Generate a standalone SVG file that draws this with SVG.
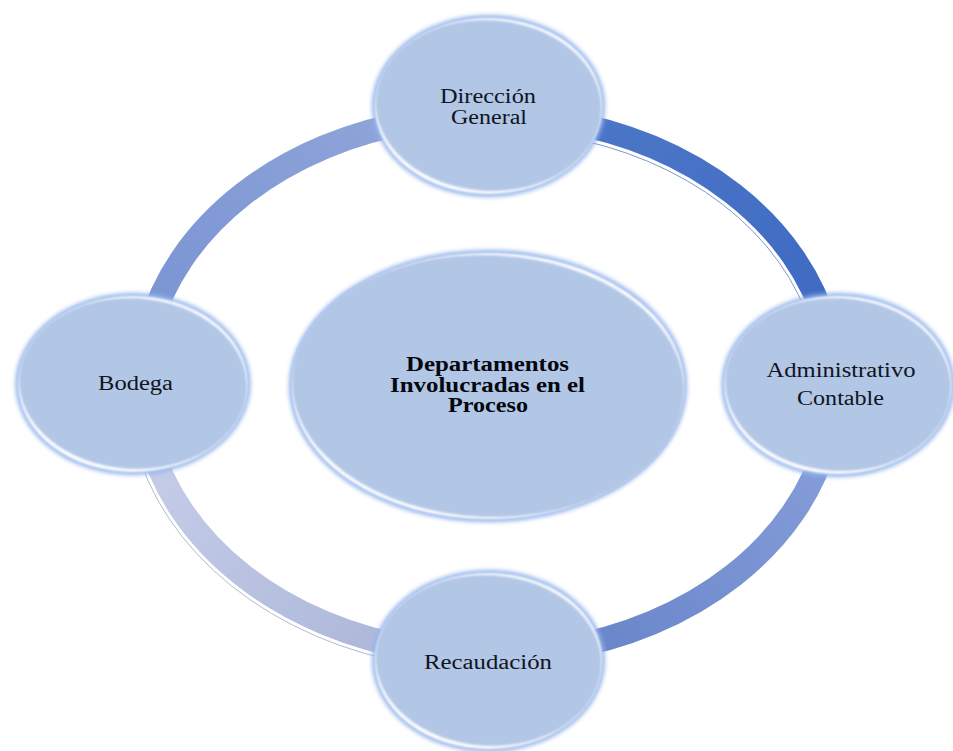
<svg xmlns="http://www.w3.org/2000/svg" width="953" height="751" viewBox="0 0 953 751">
<style>
.rim{fill:#93b4ec;filter:url(#glow)}
.bevel{fill:#ffffff;filter:url(#soft)}
.face{fill:#b2c6e6;filter:url(#soft)}
text{font-family:"Liberation Serif","Times New Roman",serif;font-size:20px;fill:#10141e;text-anchor:middle}
.bold{font-weight:bold;fill:#05070d}
.seg{fill:none;stroke-width:24;filter:url(#edge)}
.line{fill:none;stroke:#b4bbce;stroke-width:1}
.line-blue{fill:none;stroke:#7f97cf;stroke-width:1}
.shine{fill:none;stroke:#ffffff;stroke-width:3}
</style>
<defs>
<filter id="glow" x="-10%" y="-10%" width="120%" height="120%"><feGaussianBlur stdDeviation="2"/></filter>
<filter id="soft" x="-10%" y="-10%" width="120%" height="120%"><feGaussianBlur stdDeviation="0.9"/></filter>
<filter id="edge" x="-10%" y="-10%" width="120%" height="120%"><feGaussianBlur stdDeviation="0.7"/></filter>
<linearGradient id="gTR" gradientUnits="userSpaceOnUse" x1="600" y1="125" x2="820" y2="300"><stop offset="0" stop-color="#4b76c8"/><stop offset="1" stop-color="#3f6bc2"/></linearGradient>
<linearGradient id="gBR" gradientUnits="userSpaceOnUse" x1="815" y1="475" x2="600" y2="640"><stop offset="0" stop-color="#839bd7"/><stop offset="1" stop-color="#6a87cb"/></linearGradient>
<linearGradient id="gBL" gradientUnits="userSpaceOnUse" x1="160" y1="475" x2="375" y2="640"><stop offset="0" stop-color="#c3cbe7"/><stop offset="1" stop-color="#aeb9da"/></linearGradient>
<linearGradient id="gTL" gradientUnits="userSpaceOnUse" x1="375" y1="125" x2="160" y2="300"><stop offset="0" stop-color="#8ea3d8"/><stop offset="1" stop-color="#7b96d4"/></linearGradient>
</defs>
<rect width="953" height="751" fill="#ffffff"/>
<g id="connectors">
<path class="seg" stroke="url(#gTR)" d="M560 121A346 270 0 0 1 827 330"/>
<path class="seg" stroke="url(#gBR)" d="M827 440A346 270 0 0 1 560 649"/>
<path class="seg" stroke="url(#gBL)" d="M416 649A346 270 0 0 1 149 440"/>
<path class="seg" stroke="url(#gTL)" d="M149 330A346 270 0 0 1 416 121"/>
<path class="shine" d="M560 134A332 257 0 0 1 814 330"/>
<path class="line-blue" d="M560 136A330 255 0 0 1 812 330"/>
<path class="shine" d="M416 663A360 283 0 0 1 136 440"/>
<path class="line" d="M416 665A362 285 0 0 1 134 440"/>
</g>
<g id="node-center">
<ellipse class="rim" cx="488" cy="386" rx="199" ry="136"/>
<ellipse class="bevel" cx="488" cy="386" rx="196" ry="133"/>
<ellipse class="face" cx="488" cy="386" rx="196" ry="131" transform="rotate(2.2 488 386)"/>
<text class="bold" x="487.500" y="371" textLength="163" lengthAdjust="spacingAndGlyphs">Departamentos</text>
<text class="bold" x="487.500" y="392" textLength="195" lengthAdjust="spacingAndGlyphs">Involucradas en el</text>
<text class="bold" x="488" y="412" textLength="80" lengthAdjust="spacingAndGlyphs">Proceso</text>
</g>
<g id="node-direccion">
<ellipse class="rim" cx="488.500" cy="106" rx="116.500" ry="91"/>
<ellipse class="bevel" cx="488.500" cy="106" rx="113.500" ry="88"/>
<ellipse class="face" cx="488.500" cy="105.500" rx="113" ry="85.500" transform="rotate(3.5 488.500 105.500)"/>
<text x="488" y="103" textLength="96" lengthAdjust="spacingAndGlyphs">Dirección</text>
<text x="489" y="124" textLength="76" lengthAdjust="spacingAndGlyphs">General</text>
</g>
<g id="node-administrativo">
<ellipse class="rim" cx="838" cy="385" rx="116.500" ry="92"/>
<ellipse class="bevel" cx="838" cy="385" rx="113.500" ry="89"/>
<ellipse class="face" cx="838" cy="384.500" rx="113" ry="86.500" transform="rotate(3.5 838 384.500)"/>
<text x="841" y="377" textLength="149" lengthAdjust="spacingAndGlyphs">Administrativo</text>
<text x="840.500" y="405" textLength="87" lengthAdjust="spacingAndGlyphs">Contable</text>
</g>
<g id="node-bodega">
<ellipse class="rim" cx="133" cy="384" rx="117.500" ry="91"/>
<ellipse class="bevel" cx="133" cy="384" rx="114.500" ry="88"/>
<ellipse class="face" cx="133" cy="383.500" rx="114" ry="85.500" transform="rotate(3.5 133 383.500)"/>
<text x="135.500" y="390" textLength="75" lengthAdjust="spacingAndGlyphs">Bodega</text>
</g>
<g id="node-recaudacion">
<ellipse class="rim" cx="488.500" cy="661" rx="116.500" ry="91"/>
<ellipse class="bevel" cx="488.500" cy="661" rx="113.500" ry="88"/>
<ellipse class="face" cx="488.500" cy="660.500" rx="113" ry="85.500" transform="rotate(3.5 488.500 660.500)"/>
<text x="488" y="669" textLength="128" lengthAdjust="spacingAndGlyphs">Recaudación</text>
</g>
</svg>
